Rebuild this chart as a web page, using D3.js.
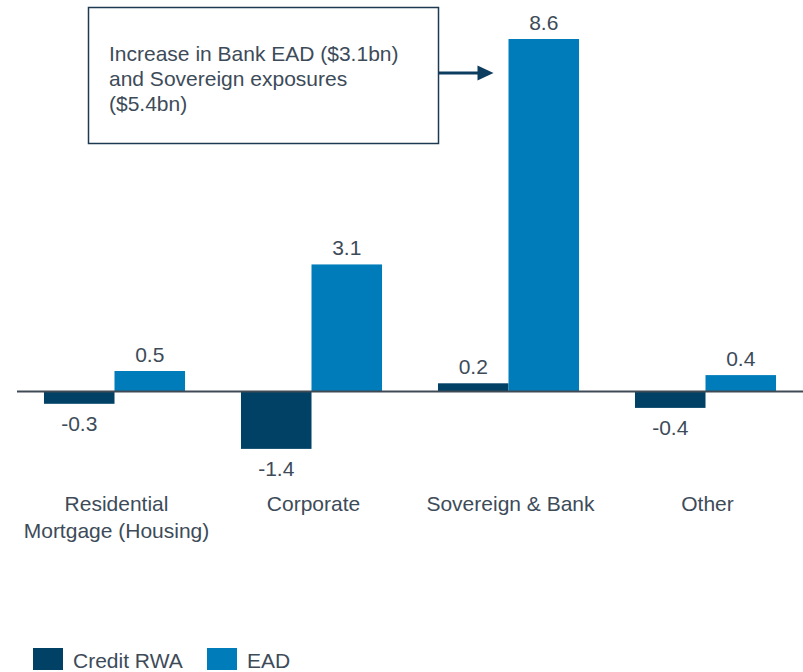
<!DOCTYPE html>
<html>
<head>
<meta charset="utf-8">
<script src="https://cdn.jsdelivr.net/npm/d3@7"></script>
<style>
  html, body { margin: 0; padding: 0; background: #ffffff; }
  svg { display: block; }
  text { font-family: "Liberation Sans", Arial, sans-serif; fill: #3d4b59; }
</style>
</head>
<body>
<svg id="chart" width="803" height="672"></svg>
<script>
// ---- data ----
const categories = [["Residential", "Mortgage (Housing)"], ["Corporate"], ["Sovereign & Bank"], ["Other"]];
const seriesNames = ["Credit RWA", "EAD"];
const creditRWA = [-0.3, -1.4, 0.2, -0.4];
const ead = [0.5, 3.1, 8.6, 0.4];
const annotationLines = ["Increase in Bank EAD ($3.1bn)", "and Sovereign exposures", "($5.4bn)"];

const colors = ["#004165", "#007cba"];
const seriesValues = [creditRWA, ead];

const svg = d3.select("#chart");
const catKeys = categories.map(c => c.join(" "));

const x0 = d3.scaleBand().domain(catKeys).range([16, 804]).paddingInner(0.284).paddingOuter(0.142);
const x1 = d3.scaleBand().domain(seriesNames).range([0, x0.bandwidth()]).padding(0);
const yMax = d3.max(seriesValues.flat());
const y = d3.scaleLinear().domain([0, yMax]).range([391.5, 39]);

const rows = [];
catKeys.forEach((k, i) => {
  seriesNames.forEach((s, j) => rows.push({ cat: k, series: s, idx: j, value: seriesValues[j][i] }));
});

// bars
svg.append("g").selectAll("rect").data(rows).join("rect")
  .attr("x", d => x0(d.cat) + x1(d.series))
  .attr("width", x1.bandwidth())
  .attr("y", d => y(Math.max(0, d.value)))
  .attr("height", d => Math.abs(y(d.value) - y(0)))
  .attr("fill", d => colors[d.idx]);

// baseline
svg.append("line")
  .attr("x1", 17).attr("x2", 803)
  .attr("y1", y(0)).attr("y2", y(0))
  .attr("stroke", "#3f4a55").attr("stroke-width", 2);

// value labels
svg.append("g").selectAll("text").data(rows).join("text")
  .attr("x", d => x0(d.cat) + x1(d.series) + x1.bandwidth() / 2)
  .attr("y", d => d.value >= 0 ? y(d.value) - 9 : y(d.value) + 27)
  .attr("text-anchor", "middle")
  .style("font-size", "21px")
  .text(d => d3.format(".1f")(d.value).replace("−", "-"));

// category labels
const catG = svg.append("g");
categories.forEach((lines, i) => {
  const t = catG.append("text")
    .attr("x", x0(catKeys[i]) + x0.bandwidth() / 2 + 2)
    .attr("y", 511)
    .attr("text-anchor", "middle")
    .style("font-size", "21px");
  lines.forEach((l, li) => t.append("tspan")
    .attr("x", x0(catKeys[i]) + x0.bandwidth() / 2 + 2)
    .attr("dy", li === 0 ? 0 : 27)
    .text(l));
});

// annotation box
const ann = svg.append("g");
ann.append("rect")
  .attr("x", 88.5).attr("y", 7.5).attr("width", 350).attr("height", 136)
  .attr("fill", "#ffffff").attr("stroke", "#1d3a52").attr("stroke-width", 1.5);
const at = ann.append("text").attr("x", 109).attr("y", 61).style("font-size", "21px");
annotationLines.forEach((l, i) => at.append("tspan").attr("x", 109).attr("dy", i === 0 ? 0 : 25).text(l));

// arrow
const tipX = x0(catKeys[2]) + x1("EAD") - 15;
const arrowY = 73;
ann.append("line")
  .attr("x1", 439).attr("x2", tipX - 14)
  .attr("y1", arrowY).attr("y2", arrowY)
  .attr("stroke", "#0d3d5e").attr("stroke-width", 3);
ann.append("path")
  .attr("d", `M${tipX},${arrowY} L${tipX - 16},${arrowY - 7.5} L${tipX - 16},${arrowY + 7.5} Z`)
  .attr("fill", "#0d3d5e");

// legend
const legendX = [33, 207];
const lg = svg.append("g").selectAll("g").data(seriesNames).join("g")
  .attr("transform", (d, i) => `translate(${legendX[i]},648)`);
lg.append("rect").attr("width", 30).attr("height", 22).attr("fill", (d, i) => colors[i]);
lg.append("text").attr("x", 40).attr("y", 20).style("font-size", "21px").text(d => d);
</script>
</body>
</html>
